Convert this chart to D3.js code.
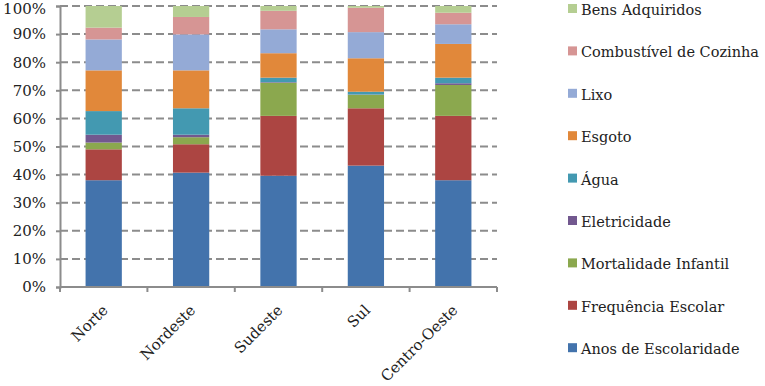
<!DOCTYPE html>
<html><head><meta charset="utf-8">
<script src="https://cdn.jsdelivr.net/npm/d3@7"></script>
<style>body{margin:0;background:#fff}svg{display:block}</style>
</head><body><svg id="c" width="765" height="386"></svg>
<script>
const categories = ["Norte","Nordeste","Sudeste","Sul","Centro-Oeste"];
const seriesNames = ["Anos de Escolaridade","Frequência Escolar","Mortalidade Infantil","Eletricidade","Água","Esgoto","Lixo","Combustível de Cozinha","Bens Adquiridos"];
const anos        = [38.0, 40.7, 39.6, 43.2, 38.0];
const frequencia  = [11.0, 10.1, 21.3, 20.4, 22.9];
const mortalidade = [2.4, 2.5, 11.8, 4.8, 11.0];
const eletricidade= [2.8, 0.9, 0.2, 0.1, 0.6];
const agua        = [8.4, 9.4, 1.6, 1.0, 2.0];
const esgoto      = [14.5, 13.5, 8.7, 11.9, 12.0];
const lixo        = [11.0, 12.8, 8.5, 9.3, 7.0];
const combustivel = [4.2, 6.2, 6.6, 8.7, 4.1];
const bens        = [7.7, 3.9, 1.7, 0.6, 2.4];
const yTicks = [0,10,20,30,40,50,60,70,80,90,100];
const colors = ["#4373AC","#AC4542","#8BA84E","#72588F","#4399B1","#E1883A","#94AAD6","#D69594","#B5CE92"];
const FONT = "DejaVu Serif";

const valuesBySeries = [anos,frequencia,mortalidade,eletricidade,agua,esgoto,lixo,combustivel,bens];
const rows = categories.map((c,i)=>{const r={cat:c}; seriesNames.forEach((s,j)=>r[s]=valuesBySeries[j][i]); return r;});
const stack = d3.stack().keys(seriesNames).offset(d3.stackOffsetExpand)(rows);

const svg = d3.select("#c");
const x = d3.scaleBand().domain(categories).range([60,497]).paddingInner(0.585).paddingOuter(0.2925);
const y = d3.scaleLinear().domain([0,1]).range([287,6]);

svg.append("g").selectAll("line").data(yTicks.slice(1)).join("line")
  .attr("x1",60).attr("x2",497).attr("y1",d=>y(d/100)).attr("y2",d=>y(d/100))
  .attr("stroke","#8c8c8c").attr("stroke-width",2).attr("stroke-dasharray","8,4");

svg.append("g").selectAll("g").data(stack).join("g").attr("fill",(d,i)=>colors[i])
  .selectAll("rect").data(d=>d).join("rect")
  .attr("x",d=>x(d.data.cat)).attr("width",x.bandwidth())
  .attr("y",d=>y(d[1])).attr("height",d=>Math.max(0,y(d[0])-y(d[1])));

const yAxis = d3.axisLeft(y).tickValues(yTicks.map(v=>v/100)).tickFormat(d=>Math.round(d*100)+"%").tickSize(4).tickPadding(10);
const gy = svg.append("g").attr("transform","translate(60,0)").call(yAxis).attr("font-family",FONT).attr("font-size",15);
gy.select(".domain").attr("stroke","#8c8c8c").attr("stroke-width",2);
gy.selectAll(".tick line").attr("stroke","#8c8c8c").attr("stroke-width",2);
gy.selectAll("text").attr("fill","#222");
gy.selectAll(".tick").filter(d=>d===1).select("text").attr("dy","0.5em");

const xAxis = d3.axisBottom(x).tickSize(0).tickFormat(d=>d);
const gx = svg.append("g").attr("transform","translate(0,287)").call(xAxis).attr("font-family",FONT).attr("font-size",15);
gx.select(".domain").attr("stroke","#8c8c8c").attr("stroke-width",2).attr("d","M60,0H497");
gx.selectAll(".tick line").remove();
gx.selectAll(".tick text").attr("text-anchor","end").attr("dy","0").attr("dx","0")
  .attr("transform","translate(3,22) rotate(-45)").attr("fill","#222");
const sepX = d3.range(categories.length+1).map(i=>60+i*(437/categories.length));
svg.append("g").selectAll("line").data(sepX).join("line")
  .attr("x1",d=>d).attr("x2",d=>d).attr("y1",287).attr("y2",292).attr("stroke","#8c8c8c").attr("stroke-width",2);

const leg = svg.append("g").attr("font-family",FONT).attr("font-size",14.5);
const order = seriesNames.slice().reverse();
order.forEach((s,i)=>{
  const cy = 10 + i*42.4;
  const idx = seriesNames.indexOf(s);
  leg.append("rect").attr("x",568).attr("y",cy-6).attr("width",9).attr("height",9).attr("fill",colors[idx]);
  leg.append("text").attr("x",581).attr("y",cy+5).attr("fill","#222").text(s);
});
</script></body></html>
